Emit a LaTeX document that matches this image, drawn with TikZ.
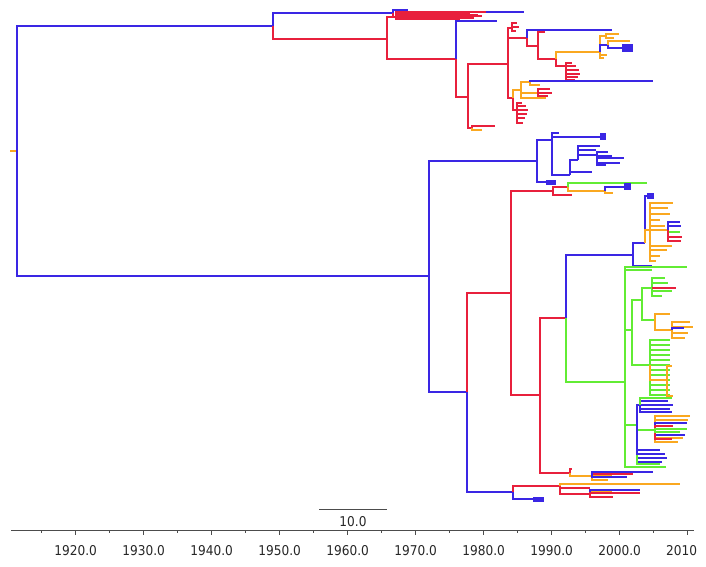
\documentclass[tikz,border=0pt]{standalone}
\usepackage{fontspec}
\setmainfont[FakeStretch=0.9]{DejaVu Sans}
\definecolor{cladeblue}{RGB}{58,38,228}
\definecolor{cladered}{RGB}{232,32,60}
\definecolor{cladeorange}{RGB}{250,168,32}
\definecolor{cladegreen}{RGB}{98,236,52}

\begin{document}
\begin{tikzpicture}[x=1pt, y=-1pt, line join=miter,
  br/.style={line width=2.6pt},
  bl/.style={br, cladeblue}, rd/.style={br, cladered},
  og/.style={br, cladeorange}, gr/.style={br, cladegreen},
  axisline/.style={line width=0.9pt, black!70},
  every node/.style={font=\fontsize{13.5}{15}\selectfont, black!85}]

    \useasboundingbox (0,0) rectangle (706,566);

    % --- 1. root ---
    \coordinate (root) at (17,151);
    \draw[og] (10,151) -- (root);

    % --- 2. upper clade ---
    \coordinate (a) at (273,26);
    \draw[bl] (root) |- (a);
    \coordinate (a1) at (393,13);
    \draw[bl] (a) |- (a1);
    \draw[bl] (a1) |- (408,10);
    \coordinate (a2) at (387,39);
    \draw[rd] (a) |- (a2);
    \coordinate (a3) at (396,17);
    \draw[rd] (a2) |- (a3);
    \draw[rd] (a1) |- (a3);
    \foreach \x/\y in {470/14, 478/15, 482/16, 474/18, 460/19, 452/17, 466/16, 440/15}
      \draw[rd] (a3) |- (\x,\y);
    \coordinate (a4) at (486,12);
    \draw[rd] (a3) |- (a4);
    \draw[bl] (a4) -- (524,12);

    \coordinate (b) at (456,59);
    \draw[rd] (a2) |- (b);
    \draw[bl] (b) |- (497,21);
    \coordinate (c) at (468,97);
    \draw[rd] (b) |- (c);
    \coordinate (d) at (508,64);
    \draw[rd] (c) |- (d);
    \coordinate (d0) at (512,28);
    \draw[rd] (d) |- (d0);
    \foreach \x/\y in {517/23, 519/27, 516/31}
      \draw[rd] (d0) |- (\x,\y);
    \coordinate (e) at (527,38);
    \draw[rd] (d) |- (e);
    \draw[bl] (e) |- (612,30);
    \coordinate (f) at (538,46);
    \draw[rd] (e) |- (f);
    \draw[rd] (f) |- (545,32);
    \coordinate (g) at (556,59);
    \draw[rd] (f) |- (g);
    \coordinate (h) at (600,52);
    \draw[og] (g) |- (h);
    \coordinate (h1) at (606,36);
    \draw[og] (h) |- (h1);
    \foreach \x/\y in {619/34, 614/38}
      \draw[og] (h1) |- (\x,\y);
    \foreach \x/\y in {607/55, 604/58}
      \draw[og] (h) |- (\x,\y);
    \coordinate (i) at (608,45);
    \draw[bl] (h) |- (i);
    \draw[bl] (i) |- (628,48);
    \fill[cladeblue] (622,44) rectangle (633,52);
    \draw[og] (i) |- (630,41);
    \coordinate (g1) at (566,66);
    \draw[rd] (g) |- (g1);
    \foreach \x/\y in {572/63, 576/66, 579/70, 580/74, 578/77, 575/80}
      \draw[rd] (g1) |- (\x,\y);

    \coordinate (j) at (513,98);
    \draw[rd] (d) |- (j);
    \coordinate (k) at (521,90);
    \draw[og] (j) |- (k);
    \coordinate (k1) at (530,82);
    \draw[og] (k) |- (k1);
    \draw[bl] (k1) |- (653,81);
    \draw[og] (k1) |- (540,85);
    \coordinate (k2) at (538,93);
    \draw[og] (k) |- (k2);
    \foreach \x/\y in {550/89, 552/93, 548/96}
      \draw[rd] (k2) |- (\x,\y);
    \draw[og] (k) |- (546,98);
    \coordinate (j1) at (517,110);
    \draw[rd] (j) |- (j1);
    \foreach \x/\y in {522/103, 526/106, 528/110, 527/114, 525/118, 523/123}
      \draw[rd] (j1) |- (\x,\y);
    \coordinate (c1) at (472,128);
    \draw[rd] (c) |- (c1);
    \draw[rd] (c1) |- (495,126);
    \draw[og] (c1) |- (482,130);

    % --- 3. lower clade ---
    \coordinate (m) at (429,276);
    \draw[bl] (root) |- (m);
    \coordinate (n) at (537,161);
    \draw[bl] (m) |- (n);
    \coordinate (n1) at (552,140);
    \draw[bl] (n) |- (n1);
    \draw[bl] (n1) |- (559,133);
    \draw[bl] (n1) |- (603,137);
    \fill[cladeblue] (600,133) rectangle (606,140);
    \coordinate (n2) at (570,175);
    \draw[bl] (n1) |- (n2);
    \draw[bl] (n2) |- (592,172);
    \coordinate (n3) at (578,160);
    \draw[bl] (n2) |- (n3);
    \foreach \x/\y in {600/146, 596/150}
      \draw[bl] (n3) |- (\x,\y);
    \coordinate (n4) at (597,155);
    \draw[bl] (n3) |- (n4);
    \foreach \x/\y in {608/152, 612/156, 624/158, 620/163, 606/165}
      \draw[bl] (n4) |- (\x,\y);
    \draw[bl] (n) |- (552,182);
    \fill[cladeblue] (546,180) rectangle (556,185);

    \coordinate (p) at (467,392);
    \draw[bl] (m) |- (p);
    \coordinate (q) at (511,293);
    \draw[rd] (p) |- (q);
    \coordinate (s) at (553,191);
    \draw[rd] (q) |- (s);
    \draw[rd] (s) |- (572,195);
    \coordinate (t) at (568,187);
    \draw[rd] (s) |- (t);
    \draw[gr] (t) |- (647,183);
    \coordinate (u) at (605,191);
    \draw[og] (t) |- (u);
    \draw[og] (u) |- (613,193);
    \draw[bl] (u) |- (630,187);
    \fill[cladeblue] (624,183) rectangle (631,190);

    \coordinate (v) at (540,395);
    \draw[rd] (q) |- (v);
    \coordinate (w) at (566,318);
    \draw[rd] (v) |- (w);
    \coordinate (x) at (633,255);
    \draw[bl] (w) |- (x);
    \draw[bl] (x) |- (652,266);
    \coordinate (y) at (645,243);
    \draw[bl] (x) |- (y);
    \draw[bl] (y) |- (652,196);
    \fill[cladeblue] (647,193) rectangle (654,199);
    \coordinate (y1) at (650,230);
    \draw[og] (y) |- (y1);
    \foreach \x/\y in {673/203, 668/208, 670/214, 660/220, 665/226, 667/250, 660/256, 656/261, 672/246}
      \draw[og] (y1) |- (\x,\y);
    \coordinate (y2) at (668,230);
    \draw[og] (y1) |- (y2);
    \foreach \x/\y in {680/222, 681/226}
      \draw[bl] (y2) |- (\x,\y);
    \draw[gr] (y2) |- (680,232);
    \foreach \x/\y in {682/237, 681/241}
      \draw[rd] (y2) |- (\x,\y);

    % green subtree
    \coordinate (z) at (625,382);
    \draw[gr] (w) |- (z);
    \draw[gr] (z) |- (687,267);
    \draw[gr] (z) |- (652,270);
    \coordinate (za) at (632,330);
    \draw[gr] (z) |- (za);
    \coordinate (zb) at (642,300);
    \draw[gr] (za) |- (zb);
    \coordinate (zc) at (652,288);
    \draw[gr] (zb) |- (zc);
    \foreach \x/\y in {665/278, 668/283, 672/291, 662/296}
      \draw[gr] (zc) |- (\x,\y);
    \draw[rd] (zc) |- (676,288);
    \coordinate (zd) at (655,320);
    \draw[gr] (zb) |- (zd);
    \draw[og] (zd) |- (670,314);
    \coordinate (ze) at (672,330);
    \draw[og] (zd) |- (ze);
    \foreach \x/\y in {690/322, 693/327, 688/333, 685/338}
      \draw[og] (ze) |- (\x,\y);
    \draw[bl] (ze) |- (684,328);
    \coordinate (zf) at (650,365);
    \draw[gr] (za) |- (zf);
    \foreach \y in {340,345,...,395}
      \draw[gr] (zf) |- (670,\y);
    \coordinate (zg) at (667,380);
    \draw[og] (zf) |- (zg);
    \foreach \x/\y in {672/366, 673/396}
      \draw[og] (zg) |- (\x,\y);
    \coordinate (zh) at (637,425);
    \draw[gr] (z) |- (zh);
    \coordinate (zi) at (640,405);
    \draw[bl] (zh) |- (zi);
    \foreach \x/\y in {668/401, 673/405, 670/409, 672/412}
      \draw[bl] (zi) |- (\x,\y);
    \draw[gr] (zi) |- (672,398);
    \coordinate (zj) at (655,430);
    \draw[gr] (zh) |- (zj);
    \foreach \x/\y in {690/416, 688/420, 678/442, 683/438}
      \draw[og] (zj) |- (\x,\y);
    \foreach \x/\y in {687/423, 685/435}
      \draw[bl] (zj) |- (\x,\y);
    \foreach \x/\y in {673/426, 672/439}
      \draw[rd] (zj) |- (\x,\y);
    \foreach \x/\y in {687/429, 680/432}
      \draw[gr] (zj) |- (\x,\y);
    \coordinate (zk) at (637,455);
    \draw[bl] (zh) |- (zk);
    \foreach \x/\y in {660/450, 665/454, 667/458, 662/462}
      \draw[bl] (zk) |- (\x,\y);
    \draw[gr] (z) |- (666,467);
    \draw[gr] (zk) |- (660,464);

    \coordinate (v1) at (570,473);
    \draw[rd] (v) |- (v1);
    \draw[rd] (v1) |- (572,469);
    \coordinate (v2) at (592,476);
    \draw[og] (v1) |- (v2);
    \foreach \x/\y in {613/472, 612/476, 608/480}
      \draw[og] (v2) |- (\x,\y);
    \draw[bl] (v2) |- (627,477);
    \draw[rd] (v2) |- (633,474);
    \draw[bl] (v2) |- (653,472);

    \coordinate (l) at (513,492);
    \draw[bl] (p) |- (l);
    \draw[bl] (l) |- (535,499);
    \fill[cladeblue] (533,497) rectangle (544,502);
    \coordinate (l1) at (560,486);
    \draw[rd] (l) |- (l1);
    \draw[og] (l1) |- (680,484);
    \draw[rd] (l1) |- (590,488);
    \coordinate (l2) at (590,494);
    \draw[rd] (l1) |- (l2);
    \draw[rd] (l2) |- (613,497);
    \draw[og] (l2) |- (612,492);
    \draw[bl] (l2) |- (640,490);
    \draw[rd] (l2) |- (640,493);

    % --- 4. scale bar and time axis ---
    \draw[axisline] (319,509) -- (387,509);
    \node (scale) at (353,522) {10.0};
    \draw[axisline] (11,530) -- (694,530);
    \foreach \yr in {1920,1930,...,2010} {
      \pgfmathsetmacro\xx{75.6+6.8*(\yr-1920)}
      \draw[axisline] (\xx,530) -- ++(0,5);
    }
    \foreach \yr in {1915,1925,...,2005} {
      \pgfmathsetmacro\xx{75.6+6.8*(\yr-1920)}
      \draw[axisline] (\xx,530) -- ++(0,3);
    }
    \foreach \yr in {1920,1930,...,2000} {
      \pgfmathsetmacro\xx{75.6+6.8*(\yr-1920)}
      \node (lab\yr) at (\xx,551) {\yr.0};
    }
    \node[anchor=west, inner xsep=0pt] (lab2010) at (666,551) {2010};

  \end{tikzpicture}
\end{document}
